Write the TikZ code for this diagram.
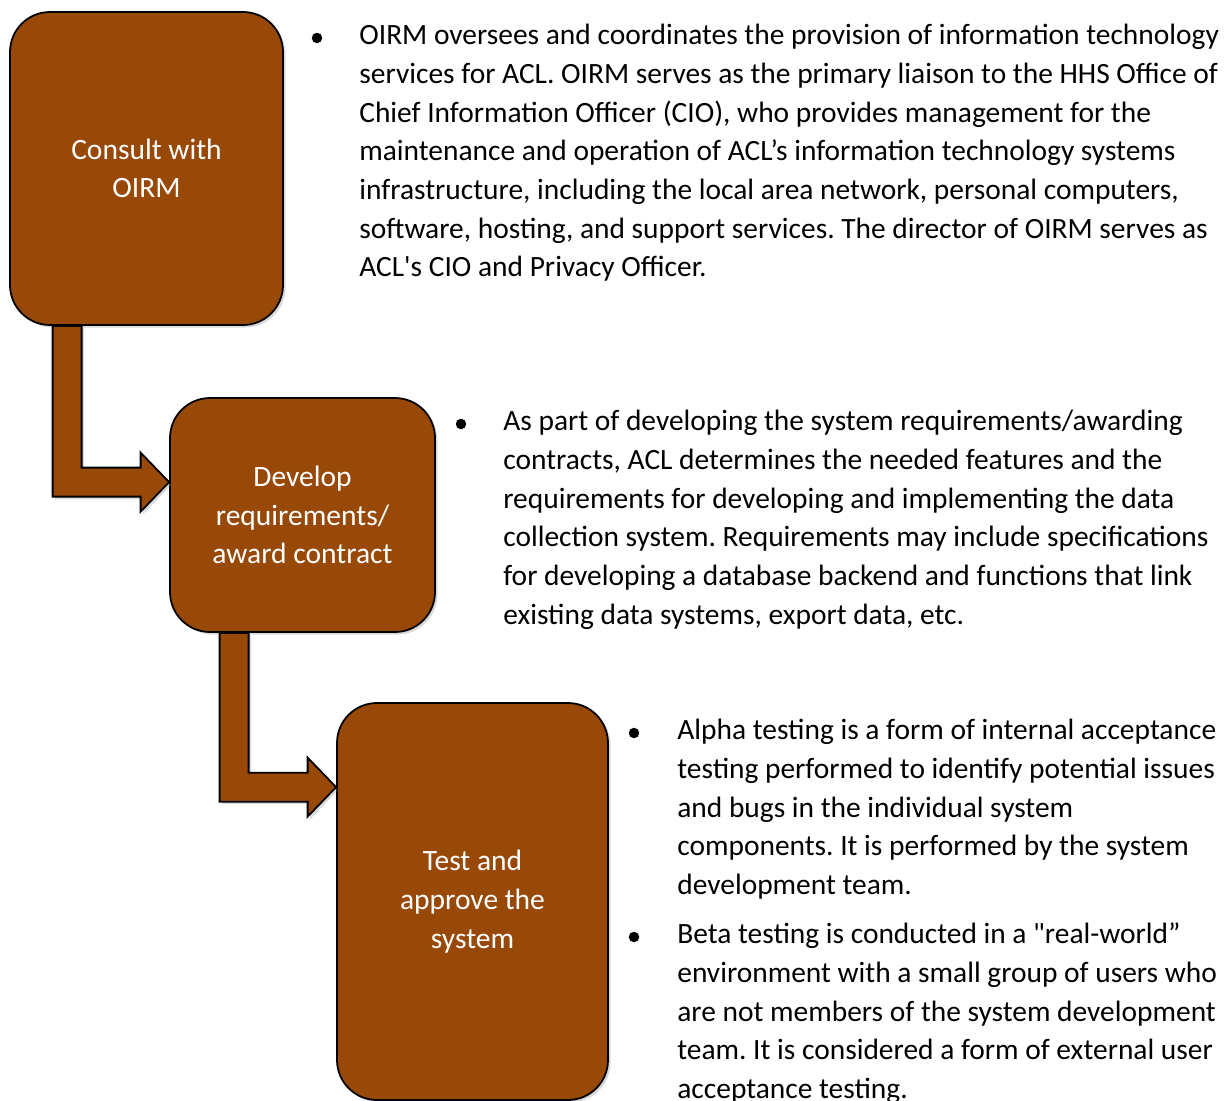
\documentclass[tikz,border=0pt]{standalone}
\usepackage{fontspec}
\setmainfont{Carlito}
\frenchspacing
\usetikzlibrary{calc,shadows}
\definecolor{boxbrown}{RGB}{152,72,7}
\tikzset{
  stepbox/.style={draw=black,line width=1pt,fill=boxbrown,rounded corners=0.8cm,
    text=white,align=center,inner sep=0pt,
    font=\fontsize{16.8}{22}\selectfont,
    drop shadow={shadow xshift=0.05cm,shadow yshift=-0.05cm,opacity=0.3}},
  bentarrowstyle/.style={draw=black,line width=1pt,fill=boxbrown,line join=miter,
    drop shadow={shadow xshift=0.05cm,shadow yshift=-0.05cm,opacity=0.3}},
  infotext/.style={anchor=base west,align=left,inner sep=0pt,
    font=\fontsize{16.75}{22}\selectfont},
  dotmark/.style={circle,fill=black,inner sep=0pt,minimum size=0.21cm}
}
\newcommand{\bentarrow}[2]{%
  \coordinate (tip) at ($(#2.north west)+(0,-1.7)$);
  \coordinate (top) at (#1.south);
  \draw[bentarrowstyle] (tip) -- ++(-0.57,0.59) -- ++(0,-0.3) -- ++(-1.18,0)
    -- ($(tip |- top)+(-1.75,0)$) -- ++(-0.58,0) -- ($(tip)+(-2.33,-0.29)$)
    -- ++(1.76,0) -- ++(0,-0.3) -- cycle;}
\begin{document}
\begin{tikzpicture}
\useasboundingbox (0,0) rectangle (24.5,-22.02);
%Step 1 (text nodes sit on the baseline of their last line)
\node[stepbox,minimum width=5.46cm,minimum height=6.26cm] (consult) at (2.93,-3.37) {Consult with\\OIRM};
\node[dotmark] (dot1) at (6.34,-0.76) {};
\node[infotext] (info1) at (7.18,-5.536) {OIRM oversees and coordinates the provision of information technology\\
services for ACL. OIRM serves as the primary liaison to the HHS Office of\\
Chief Information Officer (CIO), who provides management for the\\
maintenance and operation of ACL’s information technology systems\\
infrastructure, including the local area network, personal computers,\\
software, hosting, and support services. The director of OIRM serves as\\
ACL\textquotesingle s CIO and Privacy Officer.};
%Step 2
\node[stepbox,minimum width=5.3cm,minimum height=4.68cm] (develop) at (6.05,-10.3) {Develop\\requirements/\\award contract};
\node[dotmark] (dot2) at (9.22,-8.48) {};
\node[infotext] (info2) at (10.06,-12.483) {As part of developing the system requirements/awarding\\
contracts, ACL determines the needed features and the\\
requirements for developing and implementing the data\\
collection system. Requirements may include specifications\\
for developing a database backend and functions that link\\
existing data systems, export data, etc.};
%Step 3
\node[stepbox,minimum width=5.42cm,minimum height=7.94cm] (test) at (9.45,-18.03) {Test and\\approve the\\system};
\node[dotmark] (dot3) at (12.68,-14.66) {};
\node[infotext] (info3) at (13.54,-17.89) {Alpha testing is a form of internal acceptance\\
testing performed to identify potential issues\\
and bugs in the individual system\\
components. It is performed by the system\\
development team.};
\node[dotmark] (dot4) at (12.68,-18.74) {};
\node[infotext] (info4) at (13.54,-21.97) {Beta testing is conducted in a \textquotedbl real-world”\\
environment with a small group of users who\\
are not members of the system development\\
team. It is considered a form of external user\\
acceptance testing.};
%Arrows
\bentarrow{consult}{develop}
\bentarrow{develop}{test}
\end{tikzpicture}
\end{document}
